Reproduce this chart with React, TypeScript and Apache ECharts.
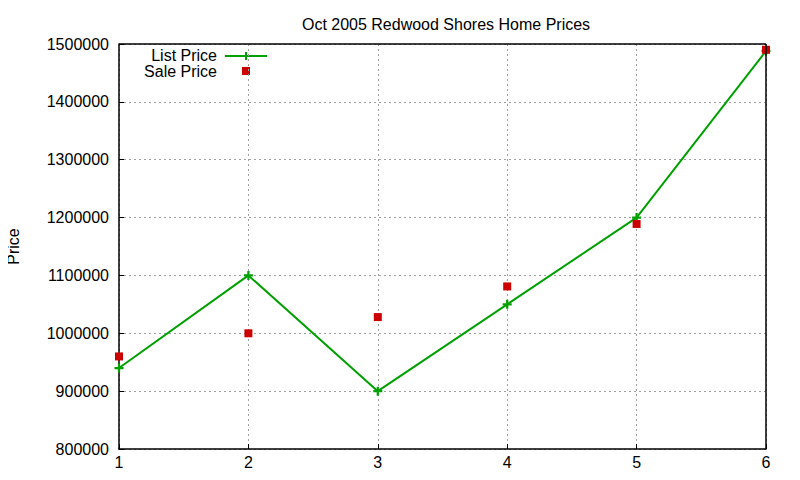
import React, { useEffect, useRef } from 'react';
import * as echarts from 'echarts';

// house numbers on the x axis
const houses = [1, 2, 3, 4, 5, 6];
const listPrices = [940000, 1100000, 900000, 1050000, 1200000, 1488000];
const salePrices = [960000, 1000000, 1028000, 1081000, 1189000, 1490000];
const seriesNames = ['List Price', 'Sale Price'];

const FONT = '"Liberation Sans", Arial, sans-serif';
const GREEN = '#00a000';
const RED = '#cc0000';
const PLUS = 'path://M3,0H5V3H8V5H5V8H3V5H0V3H3Z';

const App: React.FC = () => {
  const chartRef = useRef<HTMLDivElement>(null);

  useEffect(() => {
    if (!chartRef.current) return;
    const chart = echarts.init(chartRef.current, undefined, { renderer: 'svg' });

    const gridLine = { show: true, lineStyle: { color: '#a0a0a0', type: [2, 3] as any, width: 1 } };

    const option: any = {
      animation: false,
      backgroundColor: '#fff',
      textStyle: { fontFamily: FONT },
      title: {
        text: 'Oct 2005 Redwood Shores Home Prices',
        left: 441,
        top: 11,
        textAlign: 'center',
        textStyle: { fontFamily: FONT, fontSize: 16, fontWeight: 'normal', color: '#000' }
      },
      grid: {
        left: 119,
        top: 44,
        width: 647,
        height: 405,
        containLabel: false,
        outerBoundsMode: 'none',
        show: false
      },
      xAxis: {
        type: 'value',
        min: 1,
        max: 6,
        interval: 1,
        axisLine: { show: true, onZero: false, lineStyle: { color: '#000', width: 1.5 } },
        axisTick: { show: true, inside: true, length: 5, lineStyle: { color: '#000' } },
        axisLabel: { color: '#000', fontSize: 16, fontFamily: FONT, margin: 5 },
        splitLine: gridLine
      },
      yAxis: {
        type: 'value',
        min: 800000,
        max: 1500000,
        interval: 100000,
        name: 'Price',
        nameLocation: 'middle',
        nameGap: 98,
        nameRotate: 90,
        nameTextStyle: { color: '#000', fontSize: 16, fontFamily: FONT },
        axisLine: { show: true, lineStyle: { color: '#000', width: 1.5 } },
        axisTick: { show: true, inside: true, length: 5, lineStyle: { color: '#000' } },
        axisLabel: { color: '#000', fontSize: 16, fontFamily: FONT, margin: 10, formatter: (v: number) => String(v) },
        splitLine: gridLine
      },
      graphic: [
        // top and right border of the plot box
        { type: 'line', shape: { x1: 119, y1: 44, x2: 766, y2: 44 }, style: { stroke: '#000', lineWidth: 1.5 }, z: 10 },
        { type: 'line', shape: { x1: 766, y1: 44, x2: 766, y2: 449 }, style: { stroke: '#000', lineWidth: 1.5 }, z: 10 },
        // key
        { type: 'text', x: 217, y: 55, style: { text: seriesNames[0], fill: '#000', font: `16px ${FONT}`, textAlign: 'right', textVerticalAlign: 'middle' } },
        { type: 'line', shape: { x1: 225, y1: 56, x2: 267, y2: 56 }, style: { stroke: GREEN, lineWidth: 2 } },
        { type: 'rect', shape: { x: 245, y: 52, width: 2, height: 8 }, style: { fill: GREEN } },
        { type: 'text', x: 217, y: 71, style: { text: seriesNames[1], fill: '#000', font: `16px ${FONT}`, textAlign: 'right', textVerticalAlign: 'middle' } },
        { type: 'rect', shape: { x: 242, y: 67, width: 8, height: 8 }, style: { fill: RED } }
      ],
      series: [
        {
          name: seriesNames[0],
          type: 'line',
          data: houses.map((h, i) => [h, listPrices[i]]),
          symbol: PLUS,
          symbolSize: 9,
          showAllSymbol: true,
          lineStyle: { color: GREEN, width: 2 },
          itemStyle: { color: GREEN },
          z: 3
        },
        {
          name: seriesNames[1],
          type: 'scatter',
          data: houses.map((h, i) => [h, salePrices[i]]),
          symbol: 'rect',
          symbolSize: 8,
          itemStyle: { color: RED, opacity: 1 },
          z: 4
        }
      ]
    };

    chart.setOption(option);
    return () => {
      chart.dispose();
    };
  }, []);

  return <div ref={chartRef} style={{ width: 800, height: 480, margin: -8 }} />;
};

export default App;
